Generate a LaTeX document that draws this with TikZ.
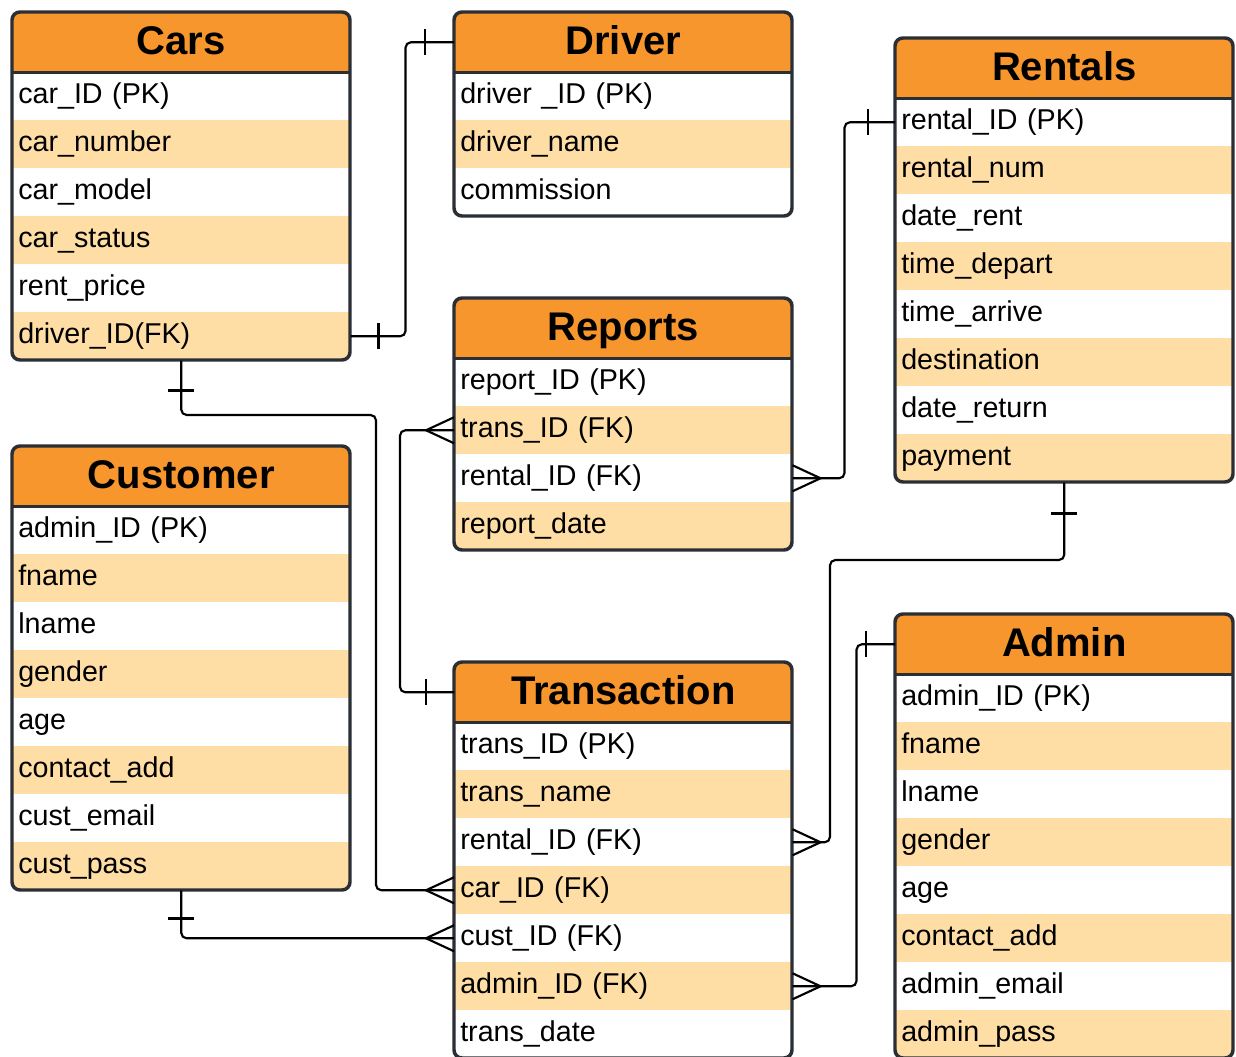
\documentclass[tikz,border=0pt]{standalone}
\usepackage{fontspec}
\setmainfont{Liberation Sans}
\usetikzlibrary{calc}
\definecolor{hdrorange}{HTML}{F8962E}
\definecolor{rowpeach}{HTML}{FFDEA6}
\definecolor{bordergray}{HTML}{2A2E35}
\tikzset{
  hdr/.style={fill=hdrorange, minimum width=253.5pt, minimum height=45pt, inner sep=0pt,
    text height=22pt, text depth=3pt,
    font=\fontsize{30}{36}\selectfont\bfseries},
  rowbox/.style={minimum height=36pt, inner xsep=4.5pt, inner ysep=0pt, text width=244.5pt,
    text height=15.5pt, text depth=4.5pt,
    align=left, font=\fontsize{21.5}{26}\selectfont},
  border/.style={draw=bordergray, line width=2.6pt},
  conn/.style={draw=black, line width=1.6pt, rounded corners=4pt},
  tickline/.style={draw=black, line width=1.6pt},
}
% #1 name, #2 left x, #3 top y, #4 number of rows, #5 title, #6 rows
\newcommand\ertable[6]{%
  \begin{scope}
    \clip[rounded corners=6pt] (#2,#3) rectangle ++(338,{60+48*#4});
    \node[hdr, anchor=north west] (#1) at (#2,#3) {#5};
    \foreach \t [count=\i] in {#6} {
      \ifodd\i\relax\def\rowfill{white}\else\def\rowfill{rowpeach}\fi
      \node[rowbox, fill=\rowfill, anchor=north west] (#1-\i) at (#2,{#3+60+48*(\i-1)}) {\t};
    }
  \end{scope}
  \draw[border] (#1.south west) -- (#1.south east);
  \draw[border, rounded corners=6pt] (#2,#3) rectangle ++(338,{60+48*#4});
}
% vertical tick on a horizontal line, #2 = x offset from point #1
\newcommand\tickH[2]{\draw[tickline] ($(#1)+(#2,-13)$) -- ($(#1)+(#2,13)$);}
% horizontal tick on a vertical line, #2 = y offset from point #1
\newcommand\tickV[2]{\draw[tickline] ($(#1)+(-13,#2)$) -- ($(#1)+(13,#2)$);}
% crow's foot at point #1 converging at x offset #2
\newcommand\crowfoot[2]{\draw[tickline] ($(#1)+(0,-13)$) -- ($(#1)+(#2,0)$) -- ($(#1)+(0,13)$);}

\begin{document}
\begin{tikzpicture}[x=0.75pt, y=-0.75pt]
\useasboundingbox (0,0) rectangle (1236,1057);
\clip (0,0) rectangle (1236,1057);
\fill[white] (0,0) rectangle (1236,1057);

\ertable{cars}{12}{12}{6}{Cars}{car\_ID (PK), car\_number, car\_model, car\_status, rent\_price, driver\_ID(FK)}
\ertable{driver}{454}{12}{3}{Driver}{driver \_ID (PK), driver\_name, commission}
\ertable{rent}{895}{38}{8}{Rentals}{rental\_ID (PK), rental\_num, date\_rent, time\_depart, time\_arrive, destination, date\_return, payment}
\ertable{rep}{454}{298}{4}{Reports}{report\_ID (PK), trans\_ID (FK), rental\_ID (FK), report\_date}
\ertable{cust}{12}{446}{8}{Customer}{admin\_ID (PK), fname, lname, gender, age, contact\_add, cust\_email, cust\_pass}
\ertable{trans}{454}{662}{7}{Transaction}{trans\_ID (PK), trans\_name, rental\_ID (FK), car\_ID (FK), cust\_ID (FK), admin\_ID (FK), trans\_date}
\ertable{admin}{895}{614}{8}{Admin}{admin\_ID (PK), fname, lname, gender, age, contact\_add, admin\_email, admin\_pass}

% Cars -> Driver (one to one)
\draw[conn] (cars-6.east) -- ++(55,0) |- (driver.west);
\tickH{cars-6.east}{28}
\tickH{driver.west}{-29}

% Cars -> Transaction car_ID
\draw[conn] (cars-6.south) |- (376,415) |- (trans-4.west);
\tickV{cars-6.south}{30}
\crowfoot{trans-4.west}{-28}

% Customer -> Transaction cust_ID
\draw[conn] (cust-8.south) |- (trans-5.west);
\tickV{cust-8.south}{28}
\crowfoot{trans-5.west}{-28}

% Reports trans_ID -> Transaction
\draw[conn] (rep-2.west) -- ++(-54,0) |- (trans.west);
\crowfoot{rep-2.west}{-28}
\tickH{trans.west}{-28}

% Reports rental_ID -> Rentals
\draw[conn] (rep-3.east) -- ++(52,0) |- (rent-1.west);
\crowfoot{rep-3.east}{28}
\tickH{rent-1.west}{-27}

% Rentals -> Transaction rental_ID
\draw[conn] (rent-8.south) |- (830,560) |- (trans-3.east);
\tickV{rent-8.south}{31}
\crowfoot{trans-3.east}{28}

% Transaction admin_ID -> Admin
\draw[conn] (trans-6.east) -- ++(64,0) |- (admin.west);
\crowfoot{trans-6.east}{28}
\tickH{admin.west}{-29}
\end{tikzpicture}
\end{document}
